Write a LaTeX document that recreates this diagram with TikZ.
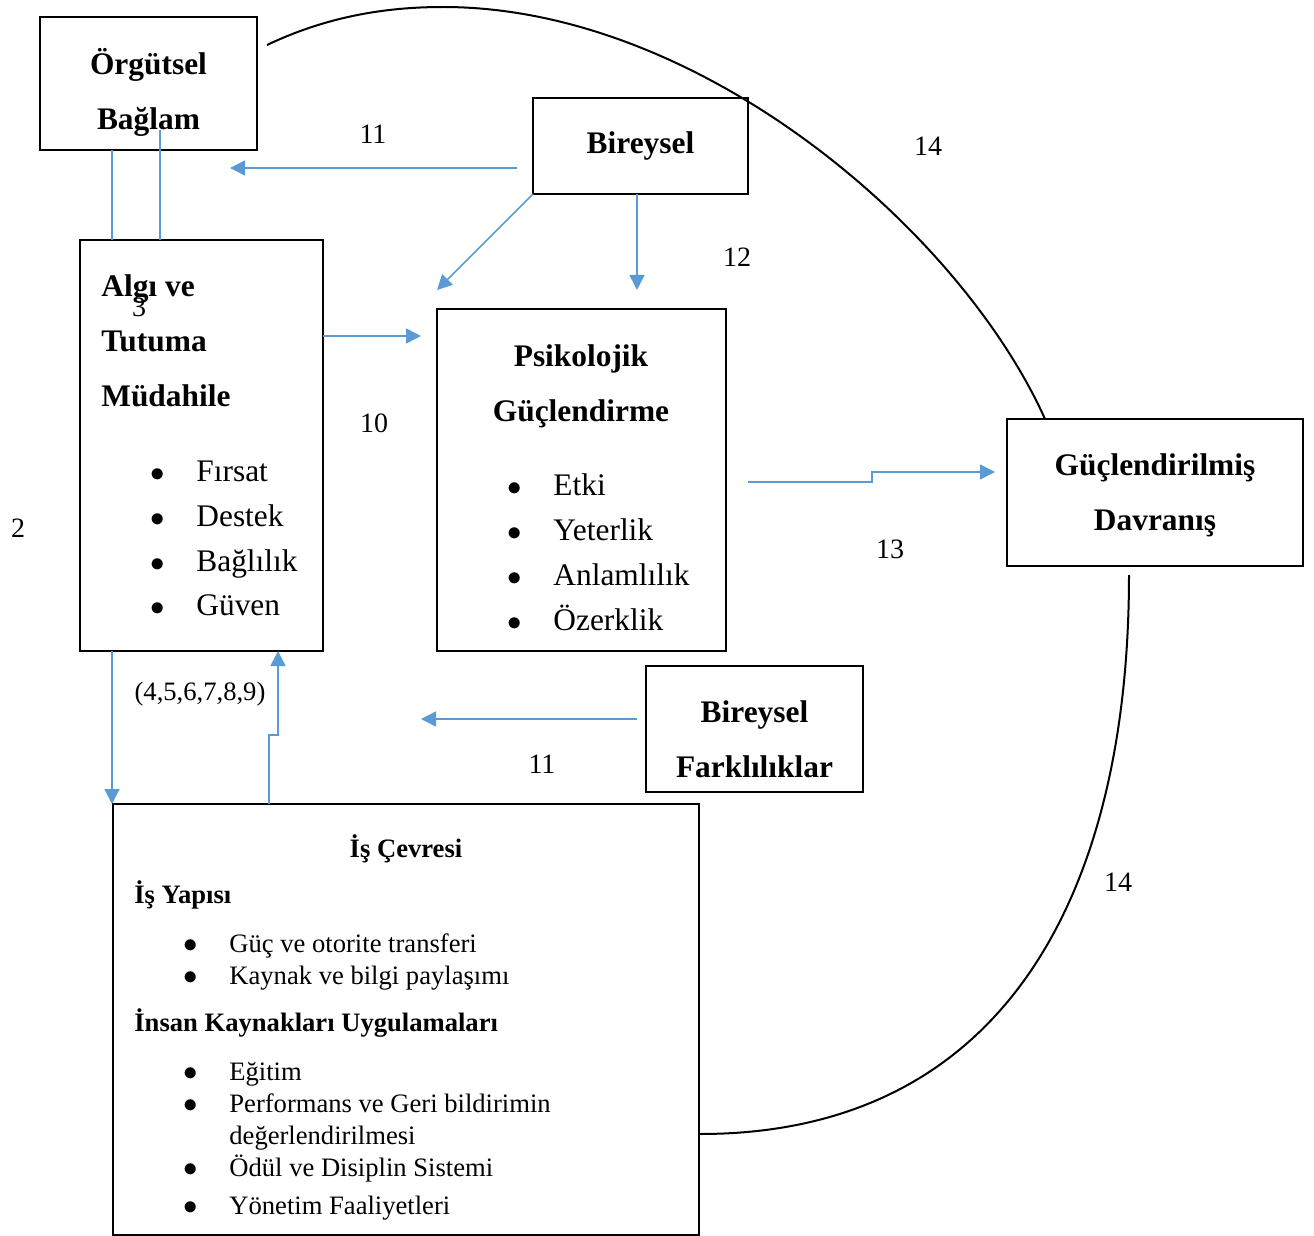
\documentclass[tikz,border=0pt]{standalone}
\usepackage{fontspec}
\setmainfont{Liberation Serif}
\usetikzlibrary{arrows.meta,calc}
\definecolor{Mavi}{RGB}{91,155,213}
\newcommand{\buyukyazi}{\fontsize{15.7pt}{27.5pt}\selectfont}
\newcommand{\listeyazi}{\fontsize{15.7pt}{22.5pt}\selectfont}
\newcommand{\kucukyazi}{\fontsize{13.3pt}{16pt}\selectfont}
\newcommand{\sayiyazi}{\fontsize{14pt}{16pt}\selectfont}
\newcommand{\madde}{$\bullet$}
\tikzset{
  kutu/.style={draw=black, line width=1.2pt, anchor=north west, inner sep=0pt,
    outer sep=0pt, align=center, font=\buyukyazi\bfseries},
  baslik/.style={align=center, font=\buyukyazi\bfseries, inner sep=0pt},
  liste/.style={anchor=west, inner sep=0pt, font=\listeyazi},
  kliste/.style={anchor=west, inner sep=0pt, font=\kucukyazi},
  kbaslik/.style={inner sep=0pt, font=\kucukyazi\bfseries},
  etiket/.style={inner sep=0pt, font=\sayiyazi},
  hat/.style={draw=Mavi, line width=0.75pt},
  ok/.style={-{Triangle[length=7.5pt, width=7.5pt]}, draw=Mavi, line width=0.75pt},
  yay/.style={draw=black, line width=1pt},
}

\begin{document}
\begin{tikzpicture}[x=0.5pt, y=-0.5pt]
  \useasboundingbox (0,0) rectangle (1314,1236);

  % kutular
  \node[kutu, minimum width=108.5pt, minimum height=66.5pt, text height=49pt, text depth=3.4pt]
    (orgutsel) at (40,17) {Örgütsel\\Bağlam};
  \node[kutu, minimum width=107.5pt, minimum height=48pt] (bireysel) at (533,98) {Bireysel};
  \node[kutu, minimum width=121.5pt, minimum height=205.5pt] (algi) at (80,240) {};
  \node[kutu, minimum width=144.5pt, minimum height=171pt] (psiko) at (437,309) {};
  \node[kutu, minimum width=148pt, minimum height=73.5pt, text height=41.2pt, text depth=3.1pt]
    (guc) at (1007,419) {Güçlendirilmiş\\Davranış};
  \node[kutu, minimum width=108.5pt, minimum height=63pt, text height=48.2pt, text depth=0pt]
    (fark) at (646,666) {Bireysel\\Farklılıklar};
  \node[kutu, minimum width=293pt, minimum height=215.5pt] (is) at (113,804) {};

  % kutu icindeki yazilar
  \node[baslik, anchor=west, align=left] (algibaslik) at (101,341) {Algı ve\\Tutuma\\Müdahile};
  \node[liste] (algiliste) at (150,539.5) {\begin{tabular}{@{}p{23pt}@{}l@{}}
      \madde & Fırsat\\ \madde & Destek\\ \madde & Bağlılık\\ \madde & Güven
    \end{tabular}};
  \node[baslik] (psikobaslik) at (581,386.5) {Psikolojik\\Güçlendirme};
  \node[liste] (psikoliste) at (507,554) {\begin{tabular}{@{}p{23pt}@{}l@{}}
      \madde & Etki\\ \madde & Yeterlik\\ \madde & Anlamlılık\\ \madde & Özerklik
    \end{tabular}};
  \node[kbaslik] (isbaslik) at (406,849) {İş Çevresi};
  \node[kbaslik, anchor=west] (isyapi) at (134,895) {İş Yapısı};
  \node[kliste] (isliste) at (183,962) {\begin{tabular}{@{}p{23pt}@{}l@{}}
      \madde & Güç ve otorite transferi\\ \madde & Kaynak ve bilgi paylaşımı
    \end{tabular}};
  \node[kbaslik, anchor=west] (insan) at (134,1023) {İnsan Kaynakları Uygulamaları};
  \node[kliste] (insanliste) at (183,1141) {\begin{tabular}{@{}p{23pt}@{}l@{}}
      \madde & Eğitim\\ \madde & Performans ve Geri bildirimin\\
      & değerlendirilmesi\\ \madde & Ödül ve Disiplin Sistemi\\[3pt]
      \madde & Yönetim Faaliyetleri
    \end{tabular}};

  % sayilar
  \node[etiket] (e11a) at (373,134) {11};
  \node[etiket] (e14a) at (928,146) {14};
  \node[etiket] (e12) at (737,257) {12};
  \node[etiket] (e3) at (139,307) {3};
  \node[etiket] (e10) at (374,423) {10};
  \node[etiket] (e2) at (18,528) {2};
  \node[etiket] (e13) at (890,549) {13};
  \node[etiket, font=\kucukyazi] (e49) at (200,694) {(4,5,6,7,8,9)};
  \node[etiket] (e11b) at (542,764) {11};
  \node[etiket] (e14b) at (1118,882) {14};

  % baglantilar
  \draw[hat] ($(orgutsel.south west)+(72,0)$) -- ($(algi.north west)+(32,0)$);
  \draw[hat] ($(orgutsel.south west)+(120,-20)$) -- ($(algi.north west)+(80,0)$);
  \draw[ok] ($(bireysel.south west)+(-16,-26)$) -- ($(orgutsel.south east)+(-27,18)$);
  \draw[ok] (bireysel.south west) -- ($(psiko.north west)+(0,-19)$);
  \draw[ok] ($(bireysel.south west)+(104,0)$) -- ($(psiko.north west)+(200,-19)$);
  \draw[ok] ($(algi.north east)+(0,96)$) -- ($(psiko.north west)+(-16,27)$);
  \draw[ok] ($(psiko.north east)+(22,173)$) -- ++(124,0) -- ++(0,-10)
    -- ($(guc.north west)+(-12,53)$);
  \draw[ok] ($(fark.north west)+(-9,53)$) -- ($(psiko.south west)+(-16,68)$);
  \draw[ok] ($(algi.south west)+(32,0)$) -- ($(is.north west)+(-1,0)$);
  \draw[ok] ($(is.north west)+(156,0)$) -- ++(0,-69) -- ++(9,0) -- ($(algi.south west)+(198,0)$);

  % yaylar
  \draw[yay] ($(orgutsel.north east)+(10,28)$) .. controls (330,15) and (390,7) .. (443,7)
    .. controls (700,7) and (960,230) .. ($(guc.north west)+(38,0)$);
  \draw[yay] ($(guc.south west)+(122,9)$) .. controls (1129,900) and (1000,1134)
    .. ($(is.south east)+(1,-101)$);
\end{tikzpicture}
\end{document}
